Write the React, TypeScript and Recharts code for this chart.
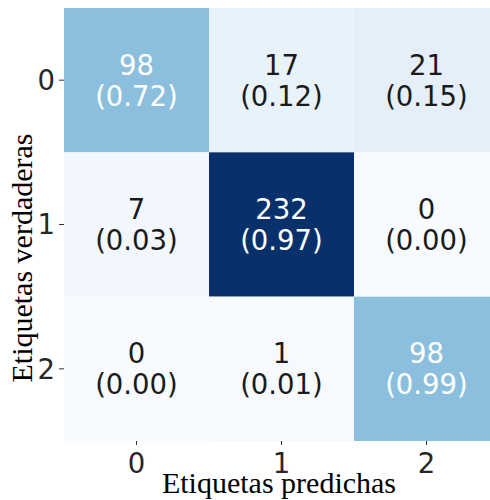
import React from 'react';
import { ScatterChart, Scatter, XAxis, YAxis } from 'recharts';

const predLabels = ['0', '1', '2'];
const trueLabels = ['0', '1', '2'];
const counts = [
  [98, 17, 21],
  [7, 232, 0],
  [0, 1, 98],
];
const ratios = [
  [0.72, 0.12, 0.15],
  [0.03, 0.97, 0.0],
  [0.0, 0.01, 0.99],
];

// matplotlib "Blues" stops
const BLUES = ['#f7fbff', '#deebf7', '#c6dbef', '#9ecae1', '#6baed6', '#4292c6', '#2171b5', '#08519c', '#08306b'];

const hexToRgb = (h: string) => [1, 3, 5].map((i) => parseInt(h.slice(i, i + 2), 16));

const blues = (t: number) => {
  const v = Math.max(0, Math.min(1, t)) * (BLUES.length - 1);
  const i = Math.min(BLUES.length - 2, Math.floor(v));
  const f = v - i;
  const a = hexToRgb(BLUES[i]);
  const b = hexToRgb(BLUES[i + 1]);
  const c = a.map((x, k) => Math.round(x + (b[k] - x) * f));
  return `rgb(${c[0]},${c[1]},${c[2]})`;
};

const maxCount = Math.max(...counts.flat());

const cells = counts.flatMap((row, i) =>
  row.map((count, j) => ({ x: j + 0.5, y: i + 0.5, count, ratio: ratios[i][j] }))
);

const W = 500;
const H = 500;
const M = { top: 8, right: 1, left: 0, bottom: 0 };
const Y_W = 64;
const X_H = 59;
const CELL_W = (W - M.left - M.right - Y_W) / 3;
const CELL_H = (H - M.top - M.bottom - X_H) / 3;

const annFont = 'DejaVu Sans, Verdana, sans-serif';
const titleFont = "'Liberation Serif', 'Times New Roman', serif";

const HeatCell = (props: any) => {
  const { cx, cy, payload } = props;
  const t = payload.count / maxCount;
  const txt = t > 0.35 ? '#ffffff' : '#1a1a1a';
  return (
    <g>
      <rect x={cx - CELL_W / 2} y={cy - CELL_H / 2} width={CELL_W} height={CELL_H} fill={blues(t)} />
      <text x={cx} y={cy - 15.5} textAnchor="middle" dominantBaseline="central" fontSize={27.5} fontFamily={annFont} fill={txt}>
        {payload.count}
      </text>
      <text x={cx} y={cy + 15.5} textAnchor="middle" dominantBaseline="central" fontSize={27.5} fontFamily={annFont} fill={txt}>
        {`(${payload.ratio.toFixed(2)})`}
      </text>
    </g>
  );
};

export default function App() {
  return (
    <div style={{ position: 'absolute', left: 0, top: 0, width: 490, height: 500, overflow: 'hidden', background: '#fff' }}>
      <ScatterChart width={W} height={H} margin={M}>
        <XAxis
          type="number"
          dataKey="x"
          domain={[0, 3]}
          ticks={[0.5, 1.5, 2.5]}
          tickFormatter={(v: number) => predLabels[Math.floor(v)]}
          height={X_H}
          axisLine={false}
          tickSize={4}
          tickMargin={8}
          tickLine={{ stroke: '#333' }}
          tick={{ fontSize: 27.5, fill: '#262626', fontFamily: annFont }}
          label={{
            content: () => (
              <text x={279} y={493} textAnchor="middle" fontSize={30} fill="#000" fontFamily={titleFont}>
                Etiquetas predichas
              </text>
            ),
          }}
        />
        <YAxis
          type="number"
          dataKey="y"
          domain={[0, 3]}
          reversed
          ticks={[0.5, 1.5, 2.5]}
          tickFormatter={(v: number) => trueLabels[Math.floor(v)]}
          width={Y_W}
          axisLine={false}
          tickSize={5}
          tickMargin={4}
          tickLine={{ stroke: '#333' }}
          tick={{ fontSize: 27.5, fill: '#262626', fontFamily: annFont }}
          label={{
            content: () => (
              <text x={32} y={258} transform="rotate(-90 32 258)" textAnchor="middle" fontSize={30} fill="#000" fontFamily={titleFont}>
                Etiquetas verdaderas
              </text>
            ),
          }}
        />
        <Scatter data={cells} shape={HeatCell} isAnimationActive={false} />
      </ScatterChart>
    </div>
  );
}
